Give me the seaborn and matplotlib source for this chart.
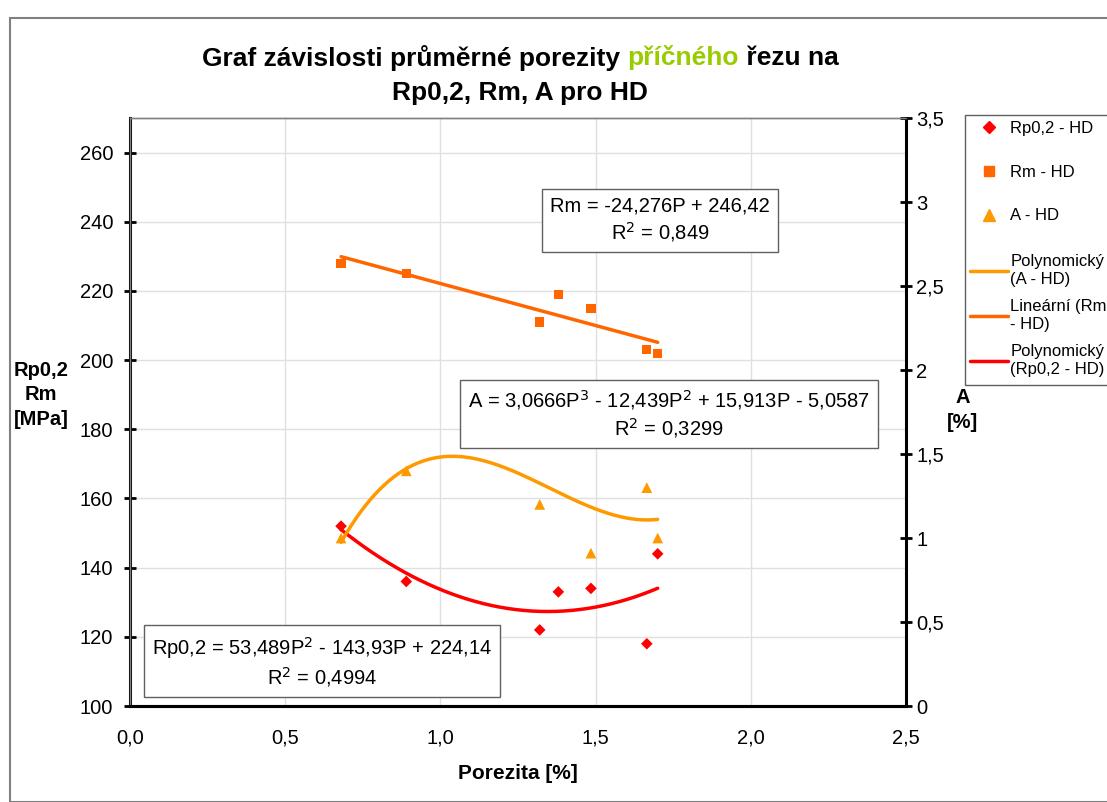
import matplotlib.pyplot as plt
import numpy as np
import pandas as pd
import seaborn as sns
from matplotlib.lines import Line2D
from matplotlib.patches import Rectangle

porosity = [0.68, 0.89, 1.32, 1.38, 1.485, 1.665, 1.70]
rp02 = [152, 136, 122, 133, 134, 118, 144]
rm = [228, 225, 211, 219, 215, 203, 202]
elong = [1.0, 1.40, 1.20, 1.61, 0.91, 1.30, 1.0]

# trend line coefficients as shown in the chart (highest power first)
rm_coef = [-24.276, 246.42]
a_coef = [3.0666, -12.439, 15.913, -5.0587]
rp_coef = [53.489, -143.93, 224.14]

df = pd.DataFrame({"P": porosity, "Rp": rp02, "Rm": rm, "A": elong})
p_fit = np.linspace(min(porosity), max(porosity), 200)
fit = pd.DataFrame({"P": p_fit,
                    "Rm": np.polyval(rm_coef, p_fit),
                    "A": np.polyval(a_coef, p_fit),
                    "Rp": np.polyval(rp_coef, p_fit)})

c_rp = "#FF0000"
c_rm = "#FF6600"
c_a = "#FF9900"

sns.set_theme(style="white")
plt.rcParams["font.family"] = ["Liberation Sans", "DejaVu Sans"]
plt.rcParams.update({"text.color": "black", "axes.labelcolor": "black",
                     "xtick.color": "black", "ytick.color": "black"})

fig = plt.figure(figsize=(11.07, 8.02), dpi=100)
ax = fig.add_axes([130 / 1107, 1 - 706 / 802, 776 / 1107, 588 / 802])
ax2 = ax.twinx()

sns.lineplot(data=fit, x="P", y="Rm", color=c_rm, lw=2.5, ax=ax)
sns.lineplot(data=fit, x="P", y="Rp", color=c_rp, lw=2.5, ax=ax)
sns.scatterplot(data=df, x="P", y="Rm", marker="s", color=c_rm, s=45,
                edgecolor="none", ax=ax, zorder=3)
sns.scatterplot(data=df, x="P", y="Rp", marker="D", color=c_rp, s=35,
                edgecolor="none", ax=ax, zorder=3)
sns.lineplot(data=fit, x="P", y="A", color=c_a, lw=2.5, ax=ax2)
sns.scatterplot(data=df, x="P", y="A", marker="^", color=c_a, s=60,
                edgecolor="none", ax=ax2, zorder=3)

ax.set_xlim(0, 2.5)
ax.set_ylim(100, 270)
ax2.set_ylim(0, 3.5)
ax.set_xticks(np.arange(0, 2.51, 0.5))
ax.set_yticks(np.arange(100, 261, 20))
ax2.set_yticks(np.arange(0, 3.51, 0.5))
ax.set_xticklabels([f"{v:.1f}".replace(".", ",") for v in np.arange(0, 2.51, 0.5)])
ax2.set_yticklabels(["0" if v == 0 else f"{v:g}".replace(".", ",")
                     for v in np.arange(0, 3.51, 0.5)])
ax.grid(True, color="#e0e0e0", lw=1)
ax.set_axisbelow(True)

for a in (ax, ax2):
    a.tick_params(labelsize=14.5, direction="inout", length=8, width=2, colors="black")
    a.set_xlabel("")
    a.set_ylabel("")
    for s in a.spines.values():
        s.set_color("#808080")
        s.set_linewidth(1)
for a, side in ((ax, "left"), (ax, "bottom"), (ax2, "right"), (ax2, "bottom")):
    a.spines[side].set_color("black")
    a.spines[side].set_linewidth(2.2)
ax.tick_params(axis="x", pad=12)
ax.tick_params(axis="y", pad=8)

ax.set_xlabel("Porezita [%]", fontsize=15, fontweight="bold", labelpad=12)
fig.text(41 / 1107, 1 - 395 / 802, "Rp0,2\nRm\n[MPa]", fontsize=14.5,
         fontweight="bold", ha="center", va="center", linespacing=1.35)
fig.text(963 / 1107, 1 - 410 / 802, "A\n[%]", fontsize=14.5,
         fontweight="bold", ha="center", va="center", linespacing=1.35)

# title with coloured word
title_parts = [("Graf závislosti průměrné porezity ", "black"),
               ("příčného", "#99CC00"), (" řezu na", "black")]
fig.canvas.draw()
r = fig.canvas.get_renderer()
widths = []
for txt, col in title_parts:
    tt = fig.text(0, 0, txt, fontsize=19, fontweight="bold")
    widths.append(tt.get_window_extent(r).width)
    tt.remove()
x0 = 520 - sum(widths) / 2
for (txt, col), w in zip(title_parts, widths):
    fig.text(x0 / 1107, 1 - 58 / 802, txt, fontsize=19, fontweight="bold",
             color=col, ha="left", va="center")
    x0 += w
fig.text(520 / 1107, 1 - 93 / 802, "Rp0,2, Rm, A pro HD", fontsize=19,
         fontweight="bold", ha="center", va="center")

box = dict(boxstyle="square,pad=0.4", fc="white", ec="#606060", lw=1)
fig.text(660 / 1107, 1 - 220 / 802, "Rm = -24,276P + 246,42\nR$^2$ = 0,849",
         fontsize=14.5, ha="center", va="center", multialignment="center",
         bbox=box, linespacing=1.25)
fig.text(669 / 1107, 1 - 414 / 802,
         "A = 3,0666P$^3$ - 12,439P$^2$ + 15,913P - 5,0587\nR$^2$ = 0,3299",
         fontsize=14.5, ha="center", va="center", multialignment="center",
         bbox=box, linespacing=1.25)
fig.text(322 / 1107, 1 - 662 / 802,
         "Rp0,2 = 53,489P$^2$ - 143,93P + 224,14\nR$^2$ = 0,4994",
         fontsize=14.5, ha="center", va="center", multialignment="center",
         bbox=box, linespacing=1.25)

# legend: markers and trend lines as two frameless blocks inside one frame
mark_handles = [
    Line2D([], [], ls="none", marker="D", color=c_rp, ms=6),
    Line2D([], [], ls="none", marker="s", color=c_rm, ms=7),
    Line2D([], [], ls="none", marker="^", color=c_a, ms=8),
]
mark_labels = ["Rp0,2 - HD", "Rm - HD", "A - HD"]
line_handles = [
    Line2D([], [], color=c_a, lw=2.5),
    Line2D([], [], color=c_rm, lw=2.5),
    Line2D([], [], color=c_rp, lw=2.5),
]
line_labels = ["Polynomický\n(A - HD)", "Lineární (Rm\n- HD)",
               "Polynomický\n(Rp0,2 - HD)"]
common = dict(loc="upper left", fontsize=12, frameon=False, handlelength=2.3,
              handletextpad=0.12, borderpad=0.3, borderaxespad=0)
leg1 = fig.legend(mark_handles, mark_labels,
                  bbox_to_anchor=(965 / 1107, 1 - 116 / 802),
                  labelspacing=1.72, **common)
leg2 = fig.legend(line_handles, line_labels,
                  bbox_to_anchor=(965 / 1107, 1 - 249 / 802),
                  labelspacing=0.72, **common)
for t in leg2.get_texts():
    t.set_linespacing(1.25)
fig.patches.append(Rectangle((965 / 1107, 1 - 385 / 802), 200 / 1107, 270 / 802,
                             transform=fig.transFigure, fill=False,
                             ec="#606060", lw=1))

fig.patches.append(Rectangle((10 / 1107, 0), 1.2, 1 - 18 / 802,
                             transform=fig.transFigure, fill=False,
                             ec="#808080", lw=1.5))

fig.savefig("out.png", dpi=100)
